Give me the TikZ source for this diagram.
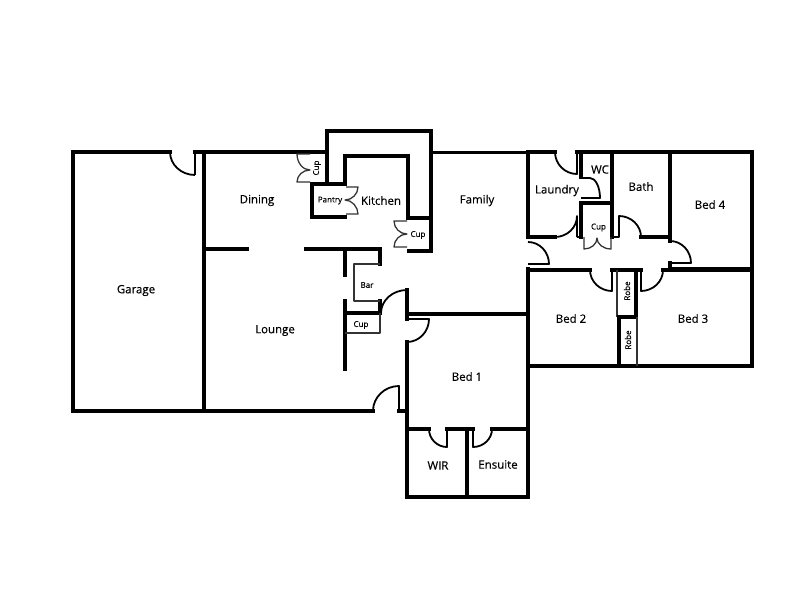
\documentclass[tikz,border=0pt]{standalone}
\usepackage{fontspec}
\setmainfont{Open Sans}
\newcommand{\arcv}[4]{.. controls ($(#1,#2)!0.55!(#1,#4)$) and ($(#3,#4)!0.55!(#1,#4)$) .. (#3,#4)}
\newcommand{\arch}[4]{.. controls ($(#1,#2)!0.55!(#3,#2)$) and ($(#3,#4)!0.55!(#3,#2)$) .. (#3,#4)}
\usetikzlibrary{calc}
\tikzset{
  wall/.style={draw=black,line width=2.6pt,line cap=rect,line join=miter},
  door/.style={draw=black,line width=1.35pt,line join=round},
  thinw/.style={draw=black!80,line width=0.95pt,line join=round},
  room/.style={font=\fontsize{8.6pt}{10pt}\selectfont\addfontfeature{FakeBold=0.3}},
  small/.style={font=\fontsize{6pt}{7pt}\selectfont\addfontfeature{FakeBold=0.3}},
}
\begin{document}
\begin{tikzpicture}[x=0.75pt,y=-0.75pt]
\useasboundingbox[fill=white] (0,0) rectangle (800,600);
% outer shell, garage and lounge
\path[wall] (170,152) -- (73,152) -- (73,411) -- (373,411);
\path[door] (170,152) \arcv{170}{152}{195}{175};
\path[door] (195,175) -- (195,152);
\path[wall] (195,152) -- (327,152);
\path[wall] (204,152) -- (204,411);
\path[door] (373,411) \arcv{373}{411}{399}{386} -- (399,411);
\path[wall] (399,411) -- (407,411);
% dining / lounge divider
\path[wall] (204,249) -- (247,249);
\path[wall] (306,249) -- (380,249) -- (380,264);
\path[wall] (345,249) -- (345,275);
\path[wall] (345,301) -- (345,369);
\path[wall] (345,313) -- (380,313);
\path[wall] (380,301) -- (380,313);
\path[thinw] (380,264) -- (354,264) -- (354,301) -- (380,301);
\path[thinw,line width=1.3pt] (345,333) -- (380,333) -- (380,313);
% kitchen loop
\path[wall] (327,152) -- (327,131) -- (431,131) -- (431,251) -- (409,251);
\path[wall] (327,152) -- (327,184);
\path[wall] (345,184) -- (312,184) -- (312,217) -- (345,217);
\path[wall] (345,184) -- (345,156) -- (408,156) -- (408,218) -- (431,218);
\path[wall,line width=2pt] (431,152.5) -- (528,152.5);
% cup doors
\path[thinw] (310,154) -- (297,154) \arcv{297}{154}{310}{170} \arch{310}{170}{297}{182} -- (310,182);
\path[thinw] (346,187) -- (358,187) .. controls (358,194) and (352,200) .. (345,200) .. controls (352,200) and (358,207) .. (358,214) -- (346,214);
\path[thinw] (407,221) -- (394,221) \arcv{394}{221}{407}{234} \arch{407}{234}{394}{247} -- (407,247);
% lounge to bed 1 door
\path[door] (381,313) \arcv{381}{313}{407}{290};
\path[wall] (407,290) -- (407,319);
\path[wall] (407,314) -- (528,314);
\path[door] (407,319) -- (429,319) \arcv{429}{319}{407}{342};
\path[wall] (407,342) -- (407,497) -- (528,497) -- (528,269);
\path[wall] (407,429) -- (429,429);
\path[door] (429,429) \arcv{429}{429}{447}{447} -- (447,429);
\path[wall] (447,429) -- (473,429);
\path[door] (473,429) -- (473,447) \arch{473}{447}{492}{429};
\path[wall] (492,429) -- (528,429);
\path[wall] (467,429) -- (467,497);
% east wing
\path[wall] (528,152) -- (555,152);
\path[door] (555,152) \arcv{555}{152}{577}{174} -- (577,152);
\path[wall] (577,152) -- (752,152) -- (752,366) -- (528,366);
\path[wall] (528,152) -- (528,237) -- (555,237);
\path[door] (555,237) \arch{555}{237}{577}{216} -- (577,237);
\path[door] (577,237) -- (581,237);
\path[wall] (581,152) -- (581,177);
\path[door] (582,178) -- (590,178) \arch{590}{178}{600}{198} -- (581,198);
\path[wall] (581,237) -- (581,203) -- (612,203);
\path[wall] (612,152) -- (612,237);
\path[door] (612,237) -- (619,237) -- (619,216) \arch{619}{216}{641}{237};
\path[wall] (641,237) -- (670,237);
\path[wall] (670,152) -- (670,241);
\path[door] (670,241) \arch{670}{241}{691}{263} -- (670,263);
\path[wall] (670,263) -- (670,269) -- (752,269);
\path[thinw] (584,237) -- (584,249) \arch{584}{249}{597}{238} \arcv{597}{238}{611}{249} -- (611,237);
\path[door] (528,242) \arch{528}{242}{549}{264} -- (528,264);
\path[wall] (528,270) -- (590,270);
\path[door] (590,270) \arcv{590}{270}{612}{291} -- (612,270);
\path[wall] (612,270) -- (641,270);
\path[door] (641,270) -- (641,291) \arch{641}{291}{663}{270};
\path[wall] (663,270) -- (752,270);
% robes
\path[thinw] (617,270) -- (617,317);
\path[wall] (636,270) -- (636,317) -- (619,317) -- (619,366);
\path[thinw] (637,317) -- (637,366);
% labels
\node[room] (garage) at (136,290.5) {Garage};
\node[room] (dining) at (257,200.5) {Dining};
\node[room] (lounge) at (275,330.5) {Lounge};
\node[room] (kitchen) at (381,200.5) {Kitchen};
\node[room] (family) at (477,200.5) {Family};
\node[room] (laundry) at (557,190.5) {Laundry};
\node[room] (wc) at (600,169.5) {WC};
\node[room] (bath) at (641,186.5) {Bath};
\node[room] (bedfour) at (710,204.5) {Bed 4};
\node[room] (bedtwo) at (571,318.5) {Bed 2};
\node[room] (bedthree) at (693,318.5) {Bed 3};
\node[room] (bedone) at (467,376.5) {Bed 1};
\node[room] (wir) at (438,465.5) {WIR};
\node[room] (ensuite) at (498,464.5) {Ensuite};
\node[small] (bar) at (367,285) {Bar};
\node[small] (cupa) at (361,325) {Cup};
\node[small,rotate=90] (cupb) at (317,168) {Cup};
\node[small] (pantry) at (330,200.5) {Pantry};
\node[small] (cupc) at (418,235) {Cup};
\node[small] (cupd) at (598.5,227.5) {Cup};
\node[small,rotate=90] (robea) at (627,291) {Robe};
\node[small,rotate=90] (robeb) at (628,340) {Robe};
\end{tikzpicture}
\end{document}
